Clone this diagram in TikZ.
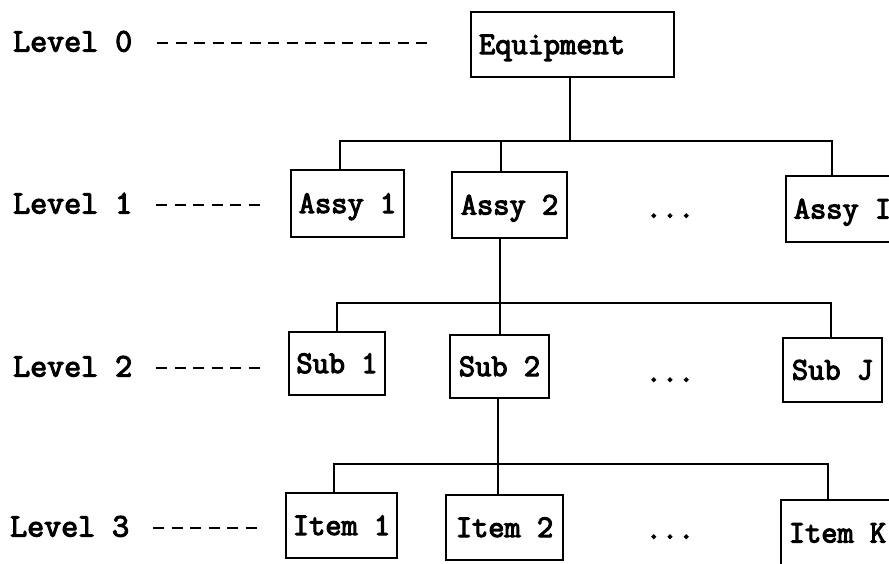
\documentclass[tikz,border=0pt]{standalone}
\usepackage{fontspec}
\newfontfamily\typew{Latin Modern Mono}[FakeBold=3.5]
\begin{document}
\begin{tikzpicture}[x=1pt,y=-1pt,
  every node/.style={font=\fontsize{31.5}{34}\typew, inner sep=0pt, text height=19pt, text depth=0pt},
  box/.style={draw, line width=1.9pt, align=center},
  conn/.style={line width=1.9pt},
  dashline/.style={line width=2.6pt, dash pattern=on 11pt off 7.5pt},
  lvl/.style={anchor=west, font=\fontsize{33}{36}\typew}
]
\useasboundingbox (0,0) rectangle (889,563);
\clip (0,0) rectangle (889,563);

% level labels and dashes
\node[lvl] (l0) at (13,42) {Level 0};
\node[lvl] (l1) at (13,204) {Level 1};
\node[lvl] (l2) at (13,367) {Level 2};
\node[lvl] (l3) at (10,527) {Level 3};
\coordinate (d0a) at (157,43); \coordinate (d0b) at (428,43);
\coordinate (d1a) at (156,205); \coordinate (d1b) at (260,205);
\coordinate (d2a) at (156,368); \coordinate (d2b) at (260,368);
\coordinate (d3a) at (153,528); \coordinate (d3b) at (257,528);
\draw[dashline] (d0a) -- (d0b);
\draw[dashline] (d1a) -- (d1b);
\draw[dashline] (d2a) -- (d2b);
\draw[dashline] (d3a) -- (d3b);

% boxes
\node[box, minimum height=65pt, text width=187pt, inner xsep=8pt, align=left] (eq) at (572.5,44.5) {Equipment};
\node[box, minimum width=113pt, minimum height=67pt] (a1) at (347.5,203.5) {Assy 1};
\node[box, minimum width=115pt, minimum height=66pt] (a2) at (509.5,205) {Assy 2};
\node[box, minimum width=113pt, minimum height=66pt] (aI) at (842.5,209) {Assy I};
\node[box, minimum width=96pt, minimum height=63pt] (s1) at (337,363.5) {Sub 1};
\node[box, minimum width=99pt, minimum height=63pt] (s2) at (499.5,366.5) {Sub 2};
\node[box, minimum width=99pt, minimum height=64pt] (sJ) at (832.5,370) {Sub J};
\node[box, minimum width=111pt, minimum height=65pt] (i1) at (341.5,525.5) {Item 1};
\node[box, minimum width=117pt, minimum height=65pt] (i2) at (504.5,527.5) {Item 2};
\node[box, minimum width=113pt, minimum height=66pt] (iK) at (837.5,533) {Item K};

% ellipses
\node (e1) at (670,208) {...};
\node (e2) at (670,372) {...};
\node (e3) at (670,529) {...};

% level 1 connectors
\coordinate (b1L) at (340,141); \coordinate (b1R) at (832,141);
\coordinate (b1E) at (570,141); \coordinate (b1M) at (501,141);
\draw[conn] (eq.south -| b1E) -- (b1E);
\draw[conn] (a1.north -| b1L) -- (b1L) -- (b1R) -- (aI.north -| b1R);
\draw[conn] (b1M) -- (a2.north -| b1M);

% level 2 connectors
\coordinate (b2L) at (337,303); \coordinate (b2R) at (831,303);
\coordinate (b2M) at (500,303);
\draw[conn] (a2.south -| b2M) -- (s2.north -| b2M);
\draw[conn] (s1.north -| b2L) -- (b2L) -- (b2R) -- (sJ.north -| b2R);

% level 3 connectors
\coordinate (b3L) at (334,464); \coordinate (b3R) at (828,464);
\coordinate (b3M) at (498,464);
\draw[conn] (s2.south -| b3M) -- (i2.north -| b3M);
\draw[conn] (i1.north -| b3L) -- (b3L) -- (b3R) -- (iK.north -| b3R);
\end{tikzpicture}
\end{document}
